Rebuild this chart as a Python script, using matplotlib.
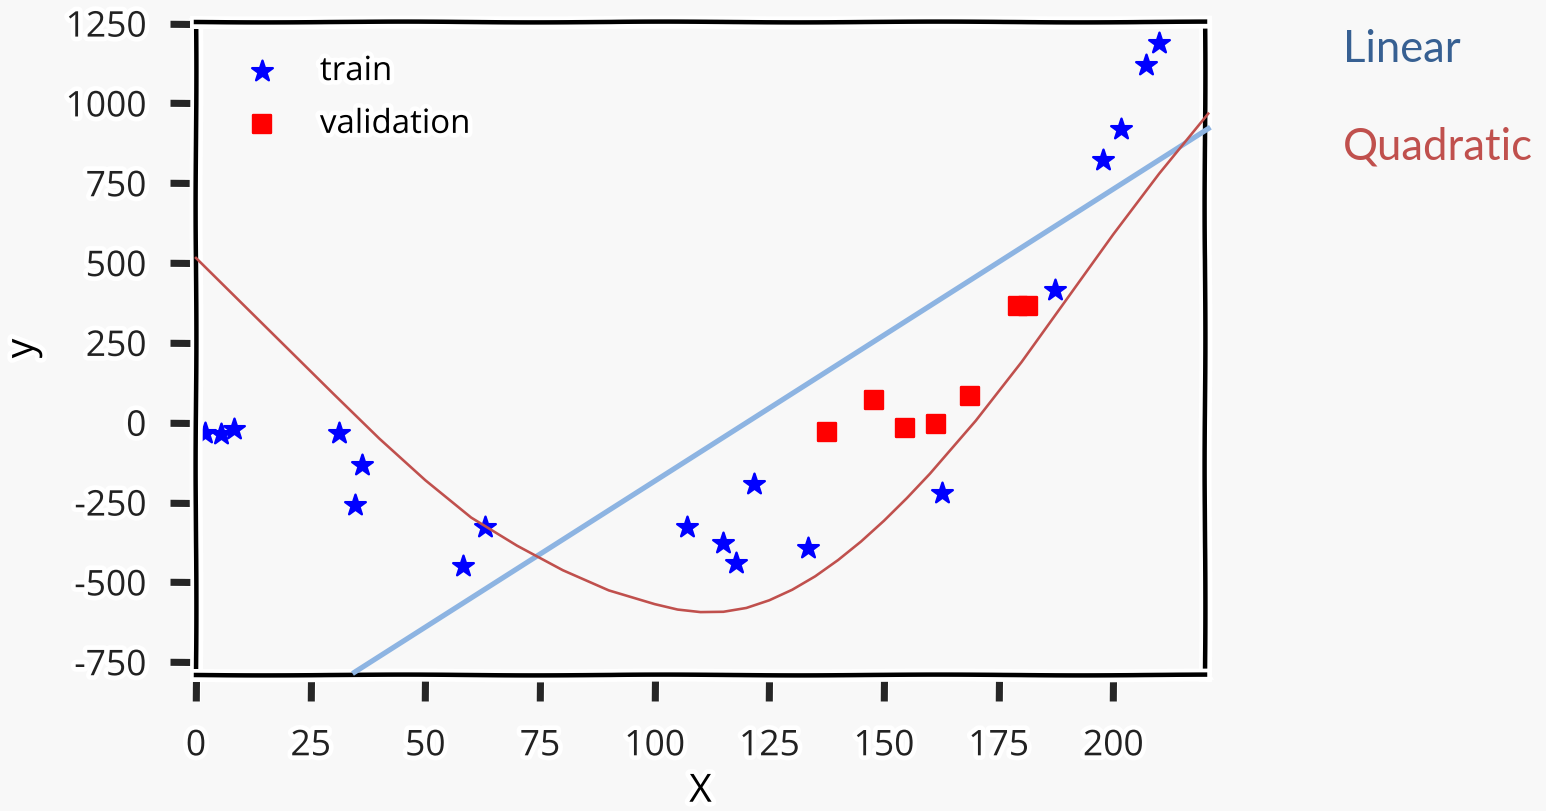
import matplotlib
matplotlib.use("Agg")
import matplotlib.pyplot as plt
from matplotlib import patheffects

# ---- data ----
train_x = [2.0, 5.5, 8.3, 31.1, 36.1, 34.6, 58.3, 63.1, 107.1, 114.9, 117.7,
           121.7, 133.4, 162.6, 187.2, 197.8, 201.7, 207.2, 210.0]
train_y = [-32, -35, -20, -32, -132, -258, -450, -327, -327, -377, -440,
           -192, -393, -220, 416, 823, 920, 1121, 1190]

val_x = [137.5, 147.8, 154.5, 161.3, 168.7, 179.3, 181.3]
val_y = [-29, 71, -16, -4, 84, 366, 366]

linear_x = [34.6, 220.7]
linear_y = [-781, 921]

quad_x = [0, 10, 20, 30, 40, 50, 60, 70, 80, 90, 100, 105, 110, 115, 120, 125,
          130, 135, 140, 145, 150, 155, 160, 170, 180, 190, 200, 210, 220.7]
quad_y = [516, 374, 232, 90, -50, -180, -297, -385, -462, -525, -568, -585,
          -593, -592, -580, -556, -523, -481, -430, -372, -307, -236, -160,
          6, 190, 390, 590, 780, 968]

x_ticks = [0, 25, 50, 75, 100, 125, 150, 175, 200]
y_ticks = [-750, -500, -250, 0, 250, 500, 750, 1000, 1250]

BG = "#f8f8f8"
DPI = 170

with plt.xkcd(scale=0.4, length=300, randomness=2):
    plt.rcParams["font.family"] = ["Open Sans", "DejaVu Sans"]
    fig = plt.figure(figsize=(1546 / DPI, 811 / DPI), dpi=DPI, facecolor=BG)
    ax = fig.add_axes([196 / 1546, 1 - 675 / 811, (1205 - 196) / 1546, (675 - 22) / 811])
    ax.set_facecolor(BG)

    # each point drawn on its own, so later halos cover earlier marks as in the reference
    for i, (x, y) in enumerate(zip(train_x, train_y)):
        ax.scatter([x], [y], marker="*", s=85, c="blue",
                   label="train" if i == 0 else None, zorder=3)
    for i, (x, y) in enumerate(zip(val_x, val_y)):
        ax.scatter([x], [y], marker="s", s=55, c="red",
                   label="validation" if i == 0 else None, zorder=3)

    ln1, = ax.plot(linear_x, linear_y, color="#8db4e2", lw=2.2, clip_on=False, zorder=4)
    ln2, = ax.plot(quad_x, quad_y, color="#c0504d", lw=1.1, clip_on=False, zorder=4,
                   solid_joinstyle="round")
    for ln in (ln1, ln2):
        ln.set_sketch_params(None)
        ln.set_path_effects([])

    ax.set_xlim(0, 220)
    ax.set_ylim(-790, 1255)
    ax.set_xticks(x_ticks)
    ax.set_yticks(y_ticks)
    ax.tick_params(axis="both", length=11, width=3, color="#262626",
                   labelsize=15, labelcolor="#222222")
    ax.tick_params(axis="x", pad=12)
    ax.tick_params(axis="y", pad=10)
    for sp in ax.spines.values():
        sp.set_linewidth(1.9)
        sp.set_color("black")
        sp.set_zorder(3.5)
        sp.set_path_effects([patheffects.withStroke(linewidth=5.5, foreground="white")])
    ax.set_xlabel("X", fontsize=16.5, labelpad=4)
    ax.set_ylabel("y", fontsize=16.5, labelpad=10)

    leg = ax.legend(loc="upper left", frameon=False, fontsize=14,
                    handletextpad=0.75, labelspacing=0.6, borderaxespad=0.6)

    fig.text(1343 / 1546, 1 - 50 / 811, "Linear", color="#376092", fontsize=18.5,
             family="Lato", va="center", ha="left", path_effects=[])
    fig.text(1343 / 1546, 1 - 147 / 811, "Quadratic", color="#c0504d", fontsize=18.5,
             family="Lato", va="center", ha="left", path_effects=[])

    fig.savefig("out.png", dpi=DPI, facecolor=BG)
